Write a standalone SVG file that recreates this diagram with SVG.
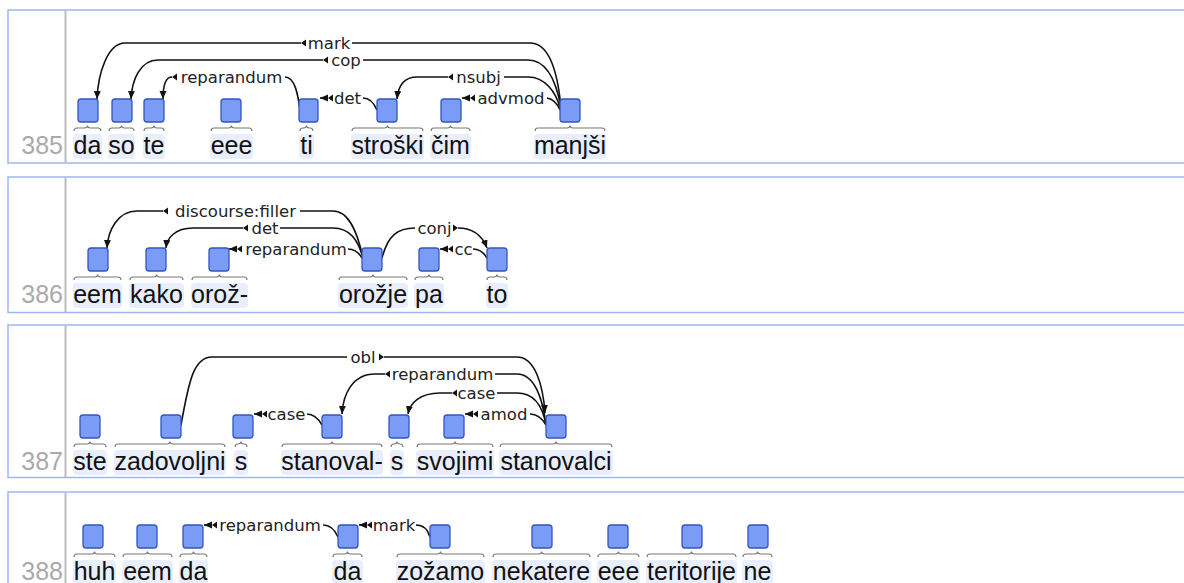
<svg xmlns="http://www.w3.org/2000/svg" width="1184" height="583" viewBox="0 0 1184 583">
<style>
.panel{fill:#fff;stroke:#9fb6f5;stroke-width:1.5}
.sep{stroke:#bdbdbd;stroke-width:2}
.num{font-family:"Liberation Sans",Arial,sans-serif;font-size:25px;fill:#aaa;text-anchor:end}
.wbg{fill:#e8eefc}
.box{fill:#7b9cf6;stroke:#3356c0;stroke-width:1.3}
.brace{fill:none;stroke:#777;stroke-width:1.1}
.word{font-family:"Liberation Sans",Arial,sans-serif;font-size:25px;fill:#111;text-anchor:middle}
.arc{fill:none;stroke:#111;stroke-width:1.6}
.arr{marker-end:url(#ah)}
.lbl{font-family:"DejaVu Sans",Verdana,sans-serif;font-size:16.5px;fill:#222;text-anchor:middle}
.tri{fill:#111}
</style>
<defs>
<marker id="ah" markerUnits="userSpaceOnUse" markerWidth="10" markerHeight="8" refX="8" refY="3.5" orient="auto">
<path d="M0,0 L8,3.5 L0,7 z" fill="#111"/>
</marker>
<path id="tl" d="M0,0 L5,-3.5 L5,3.5 z"/>
<path id="tr" d="M0,0 L-5,-3.5 L-5,3.5 z"/>
</defs>

<g id="panels">
<rect class="panel" x="8" y="10" width="1190" height="153"/>
<line class="sep" x1="65.5" y1="10.5" x2="65.5" y2="162.5"/>
<text class="num" x="63" y="154">385</text>
<rect class="panel" x="8" y="177" width="1190" height="135.5"/>
<line class="sep" x1="65.5" y1="177.5" x2="65.5" y2="312"/>
<text class="num" x="63" y="303">386</text>
<rect class="panel" x="8" y="325" width="1190" height="152.5"/>
<line class="sep" x1="65.5" y1="325.5" x2="65.5" y2="477"/>
<text class="num" x="63" y="470">387</text>
<rect class="panel" x="8" y="492" width="1190" height="200"/>
<line class="sep" x1="65.5" y1="492.5" x2="65.5" y2="590"/>
<text class="num" x="63" y="580">388</text>
</g>

<g id="connectors">
<!-- row 385 -->
<g id="a385-mark"><path class="arc arr" d="M301,43 L125,43 C107,43 98,75 97,99"/><path class="arc" d="M352,43 L530,43 C550,43 558,75 561,108"/><use class="tri" href="#tl" x="301" y="43"/><text class="lbl" x="329" y="49">mark</text></g>
<g id="a385-cop"><path class="arc arr" d="M323,60 L158,60 C140,60 132,80 131,99"/><path class="arc" d="M363,60 L528,60 C548,60 557,85 561,108"/><use class="tri" href="#tl" x="323" y="60"/><text class="lbl" x="346" y="66">cop</text></g>
<g id="a385-reparandum"><path class="arc arr" d="M172,77 C165,77 163,86 163,99"/><path class="arc" d="M285,77 C295,77 298,95 300,110"/><use class="tri" href="#tl" x="172" y="77"/><text class="lbl" x="231.5" y="83">reparandum</text></g>
<g id="a385-det"><path class="arc arr" d="M328,98 L320,98"/><path class="arc" d="M363,98 C370,98 374,103 377,110"/><use class="tri" href="#tl" x="328" y="98"/><text class="lbl" x="347.5" y="104">det</text></g>
<g id="a385-nsubj"><path class="arc arr" d="M448,77 L417,77 C402,77 398,88 397,99"/><path class="arc" d="M504,77 L528,77 C545,77 556,92 560,108"/><use class="tri" href="#tl" x="448" y="77"/><text class="lbl" x="478.5" y="83">nsubj</text></g>
<g id="a385-advmod"><path class="arc arr" d="M470,98 L462,98"/><path class="arc" d="M547,98 C553,99 557,103 560,110"/><use class="tri" href="#tl" x="470" y="98"/><text class="lbl" x="511" y="104">advmod</text></g>
<!-- row 386 -->
<g id="a386-discourse"><path class="arc arr" d="M163,211 L137,211 C118,211 108,230 107,248"/><path class="arc" d="M300,211 L333,211 C350,211 358,235 363,258"/><use class="tri" href="#tl" x="163" y="211"/><text class="lbl" x="235.5" y="217">discourse:filler</text></g>
<g id="a386-det"><path class="arc arr" d="M243,228 L193,228 C175,228 167,238 166,248"/><path class="arc" d="M280,228 L333,228 C350,228 358,240 363,258"/><use class="tri" href="#tl" x="243" y="228"/><text class="lbl" x="265" y="234">det</text></g>
<g id="a386-reparandum"><path class="arc arr" d="M237,249 L229,249"/><path class="arc" d="M348,249 C355,249 359,253 362,258"/><use class="tri" href="#tl" x="237" y="249"/><text class="lbl" x="296" y="255">reparandum</text></g>
<g id="a386-conj"><path class="arc" d="M382,258 C388,235 398,228 415,228"/><path class="arc arr" d="M458,228 C472,228 482,235 487,248"/><use class="tri" href="#tr" x="458" y="228"/><text class="lbl" x="434.5" y="234">conj</text></g>
<g id="a386-cc"><path class="arc arr" d="M448,249 L440,249"/><path class="arc" d="M473,249 C480,249 484,253 487,258"/><use class="tri" href="#tl" x="448" y="249"/><text class="lbl" x="463.5" y="255">cc</text></g>
<!-- row 387 -->
<g id="a387-obl"><path class="arc" d="M181,425 C189,380 194,357 212,357 L347,357"/><path class="arc arr" d="M384,357 L517,357 C535,357 543,385 545,413"/><use class="tri" href="#tr" x="384" y="357"/><text class="lbl" x="363" y="363">obl</text></g>
<g id="a387-reparandum"><path class="arc arr" d="M385,374 L375,374 C352,374 343,395 342,414"/><path class="arc" d="M495,374 L517,374 C535,374 543,400 546,425"/><use class="tri" href="#tl" x="385" y="374"/><text class="lbl" x="442.5" y="380">reparandum</text></g>
<g id="a387-case2"><path class="arc arr" d="M452,393 L440,393 C420,393 410,403 408,414"/><path class="arc" d="M497,393 L517,393 C536,393 543,408 546,425"/><use class="tri" href="#tl" x="452" y="393"/><text class="lbl" x="476.5" y="399">case</text></g>
<g id="a387-amod"><path class="arc arr" d="M473,414 L465,414"/><path class="arc" d="M530,414 C537,414 542,418 546,425"/><use class="tri" href="#tl" x="473" y="414"/><text class="lbl" x="504" y="420">amod</text></g>
<g id="a387-case1"><path class="arc arr" d="M262,414 L254,414"/><path class="arc" d="M307,414 C314,414 318,418 322,425"/><use class="tri" href="#tl" x="262" y="414"/><text class="lbl" x="286.5" y="420">case</text></g>
<!-- row 388 -->
<g id="a388-reparandum"><path class="arc arr" d="M212,525 L204,525"/><path class="arc" d="M323,525 C331,525 335,530 338,537"/><use class="tri" href="#tl" x="212" y="525"/><text class="lbl" x="270" y="531">reparandum</text></g>
<g id="a388-mark"><path class="arc arr" d="M367,525 L359,525"/><path class="arc" d="M416,525 C424,525 428,530 430,537"/><use class="tri" href="#tl" x="367" y="525"/><text class="lbl" x="394" y="531">mark</text></g>
</g>

<g id="nodes">
<!-- row 385 -->
<g id="n385-1"><rect class="wbg" x="73" y="134" width="29" height="25" rx="4"/><rect class="box" x="78" y="99" width="20" height="23" rx="3"/><path class="brace" d="M74,131 Q74,128 77,128 L84.5,128 Q87.5,128 87.5,125.5 Q87.5,128 90.5,128 L98,128 Q101,128 101,131"/><text class="word" x="87.5" y="154">da</text></g>
<g id="n385-2"><rect class="wbg" x="108" y="134" width="27" height="25" rx="4"/><rect class="box" x="112" y="99" width="20" height="23" rx="3"/><path class="brace" d="M109,131 Q109,128 112,128 L118.5,128 Q121.5,128 121.5,125.5 Q121.5,128 124.5,128 L131,128 Q134,128 134,131"/><text class="word" x="121.5" y="154">so</text></g>
<g id="n385-3"><rect class="wbg" x="143" y="134" width="22" height="25" rx="4"/><rect class="box" x="144" y="99" width="20" height="23" rx="3"/><path class="brace" d="M144,131 Q144,128 147,128 L151,128 Q154,128 154,125.5 Q154,128 157,128 L161,128 Q164,128 164,131"/><text class="word" x="154" y="154">te</text></g>
<g id="n385-4"><rect class="wbg" x="210" y="134" width="43" height="25" rx="4"/><rect class="box" x="221" y="99" width="20" height="23" rx="3"/><path class="brace" d="M211,131 Q211,128 214,128 L228.5,128 Q231.5,128 231.5,125.5 Q231.5,128 234.5,128 L249,128 Q252,128 252,131"/><text class="word" x="231.5" y="154">eee</text></g>
<g id="n385-5"><rect class="wbg" x="299" y="134" width="15" height="25" rx="4"/><rect class="box" x="299" y="99" width="19" height="23" rx="3"/><path class="brace" d="M300,131 Q300,128 303,128 L303.5,128 Q306.5,128 306.5,125.5 Q306.5,128 309.5,128 L310,128 Q313,128 313,131"/><text class="word" x="306.5" y="154">ti</text></g>
<g id="n385-6"><rect class="wbg" x="351" y="134" width="73" height="25" rx="4"/><rect class="box" x="377" y="99" width="20" height="23" rx="3"/><path class="brace" d="M352,131 Q352,128 355,128 L384.5,128 Q387.5,128 387.5,125.5 Q387.5,128 390.5,128 L420,128 Q423,128 423,131"/><text class="word" x="387.5" y="154">stroški</text></g>
<g id="n385-7"><rect class="wbg" x="430" y="134" width="41" height="25" rx="4"/><rect class="box" x="441" y="99" width="20" height="23" rx="3"/><path class="brace" d="M431,131 Q431,128 434,128 L447.5,128 Q450.5,128 450.5,125.5 Q450.5,128 453.5,128 L467,128 Q470,128 470,131"/><text class="word" x="450.5" y="154">čim</text></g>
<g id="n385-8"><rect class="wbg" x="534" y="134" width="72" height="25" rx="4"/><rect class="box" x="560" y="99" width="20" height="23" rx="3"/><path class="brace" d="M535,131 Q535,128 538,128 L567,128 Q570,128 570,125.5 Q570,128 573,128 L602,128 Q605,128 605,131"/><text class="word" x="570" y="154">manjši</text></g>

<!-- row 386 -->
<g id="n386-1"><rect class="wbg" x="73" y="283" width="49" height="25" rx="4"/><rect class="box" x="88" y="248" width="20" height="23" rx="3"/><path class="brace" d="M74,280 Q74,277 77,277 L94.5,277 Q97.5,277 97.5,274.5 Q97.5,277 100.5,277 L118,277 Q121,277 121,280"/><text class="word" x="97.5" y="303">eem</text></g>
<g id="n386-2"><rect class="wbg" x="129" y="283" width="55" height="25" rx="4"/><rect class="box" x="146" y="248" width="20" height="23" rx="3"/><path class="brace" d="M130,280 Q130,277 133,277 L153.5,277 Q156.5,277 156.5,274.5 Q156.5,277 159.5,277 L180,277 Q183,277 183,280"/><text class="word" x="156.5" y="303">kako</text></g>
<g id="n386-3"><rect class="wbg" x="191" y="283" width="57" height="25" rx="4"/><rect class="box" x="209" y="248" width="20" height="23" rx="3"/><path class="brace" d="M192,280 Q192,277 195,277 L216.5,277 Q219.5,277 219.5,274.5 Q219.5,277 222.5,277 L244,277 Q247,277 247,280"/><text class="word" x="219.5" y="303">orož-</text></g>
<g id="n386-4"><rect class="wbg" x="338" y="283" width="70" height="25" rx="4"/><rect class="box" x="362" y="248" width="20" height="23" rx="3"/><path class="brace" d="M339,280 Q339,277 342,277 L370,277 Q373,277 373,274.5 Q373,277 376,277 L404,277 Q407,277 407,280"/><text class="word" x="373" y="303">orožje</text></g>
<g id="n386-5"><rect class="wbg" x="414" y="283" width="30" height="25" rx="4"/><rect class="box" x="419" y="248" width="20" height="23" rx="3"/><path class="brace" d="M415,280 Q415,277 418,277 L426,277 Q429,277 429,274.5 Q429,277 432,277 L440,277 Q443,277 443,280"/><text class="word" x="429" y="303">pa</text></g>
<g id="n386-6"><rect class="wbg" x="486" y="283" width="22" height="25" rx="4"/><rect class="box" x="487" y="248" width="20" height="23" rx="3"/><path class="brace" d="M487,280 Q487,277 490,277 L494,277 Q497,277 497,274.5 Q497,277 500,277 L504,277 Q507,277 507,280"/><text class="word" x="497" y="303">to</text></g>

<!-- row 387 -->
<g id="n387-1"><rect class="wbg" x="73" y="450" width="34" height="25" rx="4"/><rect class="box" x="80" y="415" width="20" height="23" rx="3"/><path class="brace" d="M74,447 Q74,444 77,444 L87,444 Q90,444 90,441.5 Q90,444 93,444 L103,444 Q106,444 106,447"/><text class="word" x="90" y="470">ste</text></g>
<g id="n387-2"><rect class="wbg" x="114" y="450" width="112" height="25" rx="4"/><rect class="box" x="161" y="415" width="20" height="23" rx="3"/><path class="brace" d="M115,447 Q115,444 118,444 L167,444 Q170,444 170,441.5 Q170,444 173,444 L222,444 Q225,444 225,447"/><text class="word" x="170" y="470">zadovoljni</text></g>
<g id="n387-3"><rect class="wbg" x="234" y="450" width="14" height="25" rx="4"/><rect class="box" x="233" y="415" width="20" height="23" rx="3"/><path class="brace" d="M235,447 Q235,444 238,444 L238,444 Q241,444 241,441.5 Q241,444 244,444 L244,444 Q247,444 247,447"/><text class="word" x="241" y="470">s</text></g>
<g id="n387-4"><rect class="wbg" x="281" y="450" width="102" height="25" rx="4"/><rect class="box" x="322" y="415" width="20" height="23" rx="3"/><path class="brace" d="M282,447 Q282,444 285,444 L329,444 Q332,444 332,441.5 Q332,444 335,444 L379,444 Q382,444 382,447"/><text class="word" x="332" y="470">stanoval-</text></g>
<g id="n387-5"><rect class="wbg" x="390" y="450" width="14" height="25" rx="4"/><rect class="box" x="389" y="415" width="20" height="23" rx="3"/><path class="brace" d="M391,447 Q391,444 394,444 L394,444 Q397,444 397,441.5 Q397,444 400,444 L400,444 Q403,444 403,447"/><text class="word" x="397" y="470">s</text></g>
<g id="n387-6"><rect class="wbg" x="416" y="450" width="78" height="25" rx="4"/><rect class="box" x="444" y="415" width="20" height="23" rx="3"/><path class="brace" d="M417,447 Q417,444 420,444 L452,444 Q455,444 455,441.5 Q455,444 458,444 L490,444 Q493,444 493,447"/><text class="word" x="455" y="470">svojimi</text></g>
<g id="n387-7"><rect class="wbg" x="499" y="450" width="114" height="25" rx="4"/><rect class="box" x="546" y="415" width="20" height="23" rx="3"/><path class="brace" d="M500,447 Q500,444 503,444 L553,444 Q556,444 556,441.5 Q556,444 559,444 L609,444 Q612,444 612,447"/><text class="word" x="556" y="470">stanovalci</text></g>

<!-- row 388 -->
<g id="n388-1"><rect class="wbg" x="73" y="560" width="43" height="25" rx="4"/><rect class="box" x="83" y="525" width="20" height="23" rx="3"/><path class="brace" d="M74,557 Q74,554 77,554 L91.5,554 Q94.5,554 94.5,551.5 Q94.5,554 97.5,554 L112,554 Q115,554 115,557"/><text class="word" x="94.5" y="580">huh</text></g>
<g id="n388-2"><rect class="wbg" x="122" y="560" width="51" height="25" rx="4"/><rect class="box" x="137" y="525" width="20" height="23" rx="3"/><path class="brace" d="M123,557 Q123,554 126,554 L144.5,554 Q147.5,554 147.5,551.5 Q147.5,554 150.5,554 L169,554 Q172,554 172,557"/><text class="word" x="147.5" y="580">eem</text></g>
<g id="n388-3"><rect class="wbg" x="179" y="560" width="29" height="25" rx="4"/><rect class="box" x="183" y="525" width="20" height="23" rx="3"/><path class="brace" d="M180,557 Q180,554 183,554 L190.5,554 Q193.5,554 193.5,551.5 Q193.5,554 196.5,554 L204,554 Q207,554 207,557"/><text class="word" x="193.5" y="580">da</text></g>
<g id="n388-4"><rect class="wbg" x="332" y="560" width="31" height="25" rx="4"/><rect class="box" x="338" y="525" width="20" height="23" rx="3"/><path class="brace" d="M333,557 Q333,554 336,554 L344.5,554 Q347.5,554 347.5,551.5 Q347.5,554 350.5,554 L359,554 Q362,554 362,557"/><text class="word" x="347.5" y="580">da</text></g>
<g id="n388-5"><rect class="wbg" x="396" y="560" width="89" height="25" rx="4"/><rect class="box" x="430" y="525" width="20" height="23" rx="3"/><path class="brace" d="M397,557 Q397,554 400,554 L437.5,554 Q440.5,554 440.5,551.5 Q440.5,554 443.5,554 L481,554 Q484,554 484,557"/><text class="word" x="440.5" y="580">zožamo</text></g>
<g id="n388-6"><rect class="wbg" x="492" y="560" width="99" height="25" rx="4"/><rect class="box" x="532" y="525" width="20" height="23" rx="3"/><path class="brace" d="M493,557 Q493,554 496,554 L538.5,554 Q541.5,554 541.5,551.5 Q541.5,554 544.5,554 L587,554 Q590,554 590,557"/><text class="word" x="541.5" y="580">nekatere</text></g>
<g id="n388-7"><rect class="wbg" x="597" y="560" width="43" height="25" rx="4"/><rect class="box" x="608" y="525" width="20" height="23" rx="3"/><path class="brace" d="M598,557 Q598,554 601,554 L615.5,554 Q618.5,554 618.5,551.5 Q618.5,554 621.5,554 L636,554 Q639,554 639,557"/><text class="word" x="618.5" y="580">eee</text></g>
<g id="n388-8"><rect class="wbg" x="646" y="560" width="91" height="25" rx="4"/><rect class="box" x="682" y="525" width="20" height="23" rx="3"/><path class="brace" d="M647,557 Q647,554 650,554 L688.5,554 Q691.5,554 691.5,551.5 Q691.5,554 694.5,554 L733,554 Q736,554 736,557"/><text class="word" x="691.5" y="580">teritorije</text></g>
<g id="n388-9"><rect class="wbg" x="742" y="560" width="31" height="25" rx="4"/><rect class="box" x="748" y="525" width="20" height="23" rx="3"/><path class="brace" d="M743,557 Q743,554 746,554 L754.5,554 Q757.5,554 757.5,551.5 Q757.5,554 760.5,554 L769,554 Q772,554 772,557"/><text class="word" x="757.5" y="580">ne</text></g>
</g>
</svg>
